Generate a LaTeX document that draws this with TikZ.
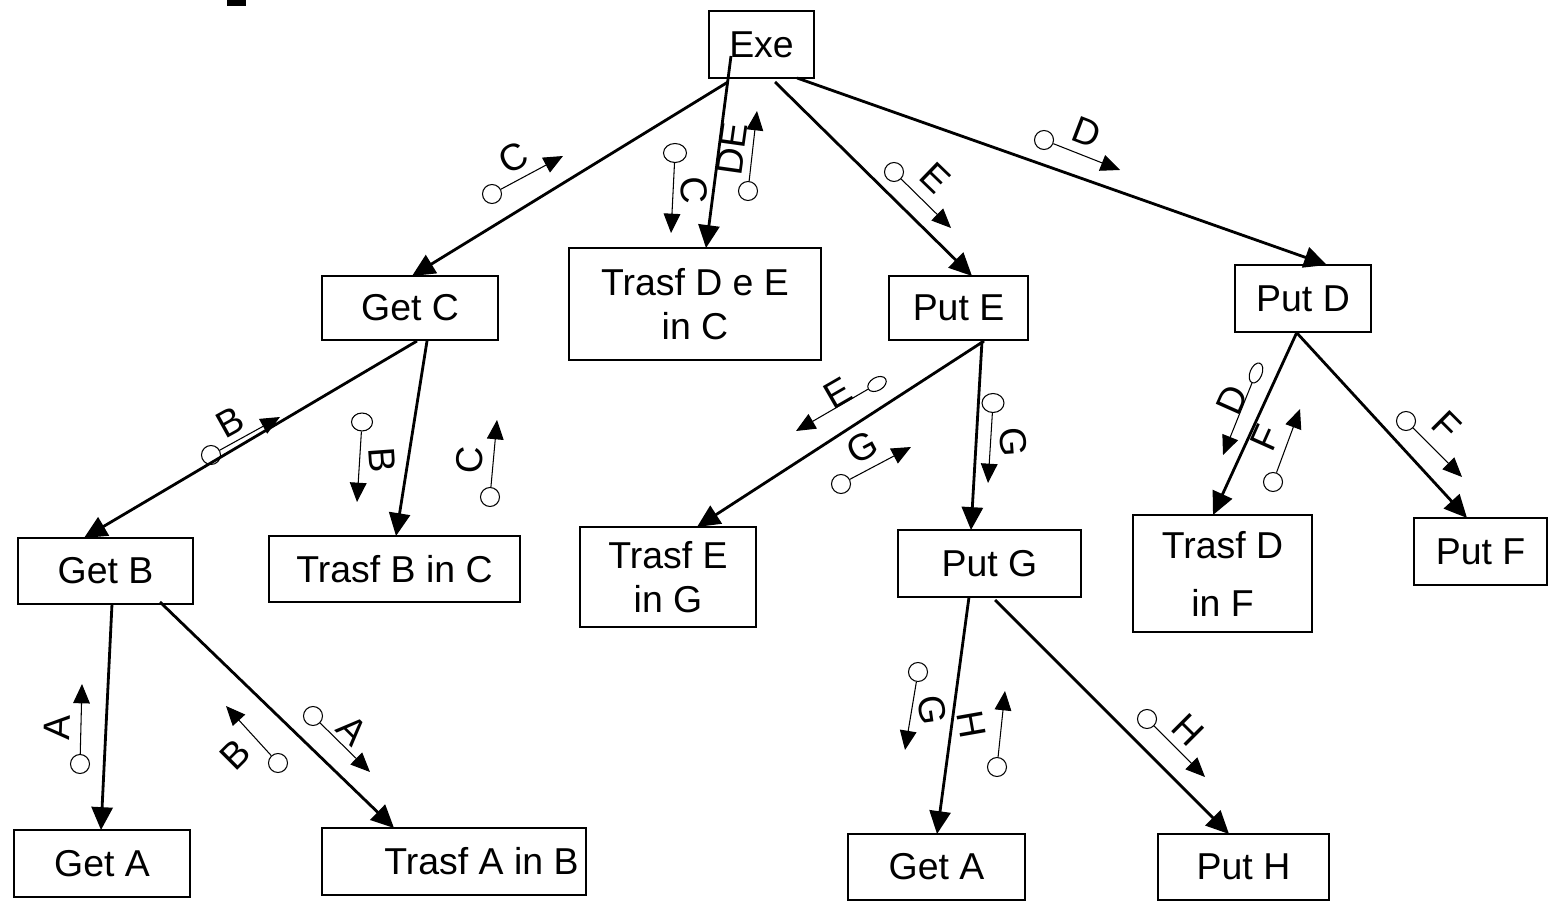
\documentclass[tikz,border=0pt]{standalone}
\usepackage{fontspec}
\setmainfont{Liberation Sans}
\usetikzlibrary{arrows.meta,calc,shapes.geometric}
\begin{document}
\begin{tikzpicture}[x=0.02cm,y=-0.02cm,
  module/.style 2 args={draw, line width=1.6pt, minimum width=#1*0.02cm,
    minimum height=#2*0.02cm, inner sep=0pt, align=center,
    font=\fontsize{21.3}{25}\selectfont},
  conn/.style={line width=1.6pt, -{Triangle[length=13pt,width=12pt]}},
  flag/.style={draw, circle, line width=0.6pt, minimum size=0.38cm, inner sep=0pt},
  oval/.style={draw, ellipse, line width=0.6pt, inner sep=0pt},
  flow/.style={line width=0.6pt, -{Triangle[length=11pt,width=9.5pt]}},
  tag/.style={inner sep=0pt, font=\fontsize{21.3}{25}\selectfont}]

\useasboundingbox (0,0) rectangle (1557,911);

% clipped mark at the top edge
\fill (227,0) rectangle (246,6);

% modules
\node[module={105}{67}] (exe) at (761.5,44.5) {Exe};
\node[module={176}{64}] (getc) at (410,308) {Get C};
\node[module={252}{112}] (trde) at (695,304) {Trasf D e E\\in C};
\node[module={139}{64}] (pute) at (958.5,308) {Put E};
\node[module={136}{67}] (putd) at (1303,298.5) {Put D};
\node[module={175}{66}] (getb) at (105.5,571) {Get B};
\node[module={251}{66}] (trbc) at (394.5,569) {Trasf B in C};
\node[module={176}{100}] (treg) at (668,577) {Trasf E\\in G};
\node[module={183}{67}] (putg) at (989.5,563.5) {Put G};
\node[module={179}{117}] (trdf) at (1222.5,573.5) {Trasf D\\[8pt]in F};
\node[module={133}{67}] (putf) at (1480.5,551.5) {Put F};
\node[module={176}{67}] (getaa) at (102,863.5) {Get A};
\node[module={264}{67}] (trab) at (454,861.5) {\hspace*{1.1cm}Trasf A in B};
\node[module={177}{66}] (getab) at (936.5,867) {Get A};
\node[module={171}{66}] (puth) at (1243.5,867) {Put H};

% calls
\draw[conn] ($(exe.center)+(-33.5,37.5)$) -- ($(getc.center)+(2,-32)$);
\draw[conn] ($(exe.center)+(-30.5,11.5)$) -- ($(trde.center)+(11,-56)$);
\draw[conn] ($(exe.center)+(13.5,37.5)$) -- ($(pute.center)+(13.5,-32)$);
\draw[conn] ($(exe.center)+(35.5,33.5)$) -- ($(putd.center)+(24,-33.5)$);
\draw[conn] ($(getc.center)+(7,33)$) -- ($(getb.center)+(-21.5,-33)$);
\draw[conn] ($(getc.center)+(17,33)$) -- ($(trbc.center)+(1.5,-33)$);
\draw[conn] ($(pute.center)+(25.5,33)$) -- ($(treg.center)+(29,-50)$);
\draw[conn] ($(pute.center)+(23.5,33)$) -- ($(putg.center)+(-18.5,-33.5)$);
\draw[conn] ($(putd.center)+(-6,33.5)$) -- ($(trdf.center)+(-9.5,-58.5)$);
\draw[conn] ($(putd.center)+(-7,33.5)$) -- ($(putf.center)+(-13.5,-33.5)$);
\draw[conn] ($(getb.center)+(6.5,33)$) -- ($(getaa.center)+(-1,-33.5)$);
\draw[conn] ($(getb.center)+(54.5,31)$) -- ($(trab.center)+(-60,-33.5)$);
\draw[conn] ($(putg.center)+(-20.5,33.5)$) -- ($(getab.center)+(0.5,-33)$);
\draw[conn] ($(putg.center)+(5.5,36.5)$) -- ($(puth.center)+(-14.5,-33)$);

% data couples
\node[flag] (c1) at (492,194) {};
\coordinate (c1t) at (563,156);
\draw[flow] (c1) -- (c1t);
\node[tag, rotate=28] (c1l) at (513,158) {C};

\node[oval, minimum width=0.46cm, minimum height=0.38cm] (c2) at (675,153) {};
\coordinate (c2t) at (671,233);
\draw[flow] (c2) -- (c2t);
\node[tag, rotate=-87] (c2l) at (694,190) {C};

\node[flag] (c3) at (748,191) {};
\coordinate (c3t) at (757,111);
\draw[flow] (c3) -- (c3t);
\node[tag, rotate=82] (c3l) at (732,149) {DE};

\node[flag] (c4) at (211,455) {};
\coordinate (c4t) at (280,417);
\draw[flow] (c4) -- (c4t);
\node[tag, rotate=29] (c4l) at (230,422) {B};

\node[oval, minimum width=0.42cm, minimum height=0.36cm] (c5) at (362,422) {};
\coordinate (c5t) at (357,502);
\draw[flow] (c5) -- (c5t);
\node[tag, rotate=-86] (c5l) at (382,460) {B};

\node[flag] (c6) at (490,497) {};
\coordinate (c6t) at (497,420);
\draw[flow] (c6) -- (c6t);
\node[tag, rotate=86] (c6l) at (470,460) {C};

\node[flag] (c7) at (894,172) {};
\coordinate (c7t) at (951,228);
\draw[flow] (c7) -- (c7t);
\node[tag, rotate=-44] (c7l) at (935,178) {E};

\node[flag] (c8) at (1044,140) {};
\coordinate (c8t) at (1120,170);
\draw[flow] (c8) -- (c8t);
\node[tag, rotate=-21] (c8l) at (1087,132) {D};

\node[oval, rotate=30, minimum width=0.4cm, minimum height=0.26cm] (c9) at (877,384) {};
\coordinate (c9t) at (796,431);
\draw[flow] (c9) -- (c9t);
\node[tag, rotate=30] (c9l) at (838,393) {E};

\node[flag] (c10) at (841,484) {};
\coordinate (c10t) at (911,447);
\draw[flow] (c10) -- (c10t);
\node[tag, rotate=28] (c10l) at (862,447) {G};

\node[oval, minimum width=0.44cm, minimum height=0.38cm] (c11) at (993,403) {};
\coordinate (c11t) at (988,483);
\draw[flow] (c11) -- (c11t);
\node[tag, rotate=-86] (c11l) at (1013,442) {G};

\node[oval, rotate=68, minimum width=0.42cm, minimum height=0.24cm] (c12) at (1256,373) {};
\coordinate (c12t) at (1223,455);
\draw[flow] (c12) -- (c12t);
\node[tag, rotate=66] (c12l) at (1232,400) {D};

\node[flag] (c13) at (1273,482) {};
\coordinate (c13t) at (1300,409);
\draw[flow] (c13) -- (c13t);
\node[tag, rotate=66] (c13l) at (1265,438) {F};

\node[flag] (c14) at (1406,421) {};
\coordinate (c14t) at (1462,477);
\draw[flow] (c14) -- (c14t);
\node[tag, rotate=-45] (c14l) at (1447,425) {F};

\node[flag] (c15) at (80,764) {};
\coordinate (c15t) at (82,684);
\draw[flow] (c15) -- (c15t);
\node[tag, rotate=88] (c15l) at (57,728) {A};

\node[flag] (c16) at (278,763) {};
\coordinate (c16t) at (226,706);
\draw[flow] (c16) -- (c16t);
\node[tag, rotate=45] (c16l) at (235,755) {B};

\node[flag] (c17) at (313,716) {};
\coordinate (c17t) at (370,772);
\draw[flow] (c17) -- (c17t);
\node[tag, rotate=-45] (c17l) at (352,730) {A};

\node[flag] (c18) at (918,672) {};
\coordinate (c18t) at (905,750);
\draw[flow] (c18) -- (c18t);
\node[tag, rotate=-82] (c18l) at (932,710) {G};

\node[flag] (c19) at (997,767) {};
\coordinate (c19t) at (1005,691);
\draw[flow] (c19) -- (c19t);
\node[tag, rotate=-80] (c19l) at (972,725) {H};

\node[flag] (c20) at (1147,719) {};
\coordinate (c20t) at (1205,777);
\draw[flow] (c20) -- (c20t);
\node[tag, rotate=-45] (c20l) at (1188,730) {H};

\end{tikzpicture}
\end{document}
